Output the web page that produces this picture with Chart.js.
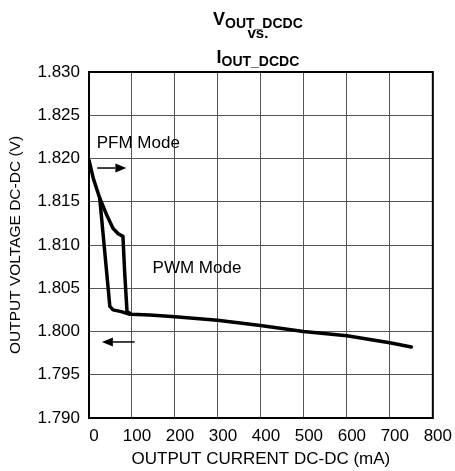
<!DOCTYPE html>
<html>
<head>
<meta charset="utf-8">
<script src="https://cdn.jsdelivr.net/npm/chart.js@4"></script>
<style>
  html,body{margin:0;padding:0;background:#fff;}
  #wrap{width:455px;height:471px;position:relative;}
</style>
</head>
<body>
<div id="wrap"><canvas id="c" width="455" height="471"></canvas></div>
<script>
// rising-load path (PFM -> PWM), in mA / V
var riseCurrent = [0, 10, 25, 41, 56, 68, 79, 83, 88.5, 98.6, 141, 176, 200, 299, 399, 499, 600, 700, 750];
var riseVoltage = [1.8198, 1.8177, 1.8154, 1.8135, 1.8119, 1.8113, 1.8110, 1.8068, 1.8023, 1.8020, 1.8019, 1.8018, 1.8017, 1.8013, 1.8007, 1.8000, 1.7995, 1.7987, 1.7982];
// falling-load path (PWM -> PFM)
var fallCurrent = [25, 48.5, 56, 75, 95];
var fallVoltage = [1.8154, 1.8029, 1.8025, 1.8023, 1.8020];

var xTicks = [0, 100, 200, 300, 400, 500, 600, 700, 800];
var xTickLabels = ['0', '100', '200', '300', '400', '500', '600', '700', '800'];
var yTicks = [1.790, 1.795, 1.800, 1.805, 1.810, 1.815, 1.820, 1.825, 1.830];
var yTickLabels = ['1.790', '1.795', '1.800', '1.805', '1.810', '1.815', '1.820', '1.825', '1.830'];

// annotations in data units
var pfmText = {x: 18, y: 1.8218, text: 'PFM Mode'};
var pwmText = {x: 148, y: 1.8073, text: 'PWM Mode'};
var arrowRight = {x1: 19, x2: 87, y: 1.8189};
var arrowLeft = {x1: 106, x2: 30, y: 1.79879};

var FONT = '"Liberation Sans", Arial, sans-serif';

function pts(xs, ys){ return xs.map(function(x, i){ return {x: x, y: ys[i]}; }); }

function arrow(ctx, x1, x2, y){
  var dir = x2 > x1 ? 1 : -1;
  var head = 11;
  ctx.beginPath();
  ctx.moveTo(x1, y);
  ctx.lineTo(x2 - dir*head, y);
  ctx.lineWidth = 1.5;
  ctx.strokeStyle = '#000';
  ctx.stroke();
  ctx.beginPath();
  ctx.moveTo(x2, y);
  ctx.lineTo(x2 - dir*head, y - 4.5);
  ctx.lineTo(x2 - dir*head, y + 4.5);
  ctx.closePath();
  ctx.fillStyle = '#000';
  ctx.fill();
}

var extras = {
  id: 'extras',
  afterDatasetsDraw: function(chart){
    var ctx = chart.ctx, a = chart.chartArea;
    var xs = chart.scales.x, ys = chart.scales.y;
    ctx.save();
    // frame
    ctx.strokeStyle = '#000';
    ctx.lineWidth = 2;
    ctx.strokeRect(a.left, a.top, a.right - a.left, a.bottom - a.top);
    // labels
    ctx.fillStyle = '#000';
    ctx.font = '17px ' + FONT;
    ctx.textAlign = 'left';
    ctx.textBaseline = 'middle';
    ctx.fillText(pfmText.text, xs.getPixelForValue(pfmText.x), ys.getPixelForValue(pfmText.y));
    ctx.fillText(pwmText.text, xs.getPixelForValue(pwmText.x), ys.getPixelForValue(pwmText.y));
    arrow(ctx, xs.getPixelForValue(arrowRight.x1), xs.getPixelForValue(arrowRight.x2), ys.getPixelForValue(arrowRight.y));
    arrow(ctx, xs.getPixelForValue(arrowLeft.x1), xs.getPixelForValue(arrowLeft.x2), ys.getPixelForValue(arrowLeft.y));
    // title
    var cx = (a.left + a.right) / 2 - 3;
    function subLine(big, small, base){
      ctx.font = 'bold 18px ' + FONT;
      var w1 = ctx.measureText(big).width;
      ctx.font = 'bold 14px ' + FONT;
      var w2 = ctx.measureText(small).width;
      var x0 = cx - (w1 + w2) / 2;
      ctx.textAlign = 'left';
      ctx.textBaseline = 'alphabetic';
      ctx.font = 'bold 18px ' + FONT;
      ctx.fillText(big, x0, base);
      ctx.font = 'bold 14px ' + FONT;
      ctx.fillText(small, x0 + w1, base + 3);
    }
    subLine('V', 'OUT_DCDC', 25);
    ctx.font = 'bold 15px ' + FONT;
    ctx.textAlign = 'center';
    ctx.textBaseline = 'alphabetic';
    ctx.fillText('vs.', cx, 38);
    subLine('I', 'OUT_DCDC', 63);
    ctx.restore();
  }
};

new Chart(document.getElementById('c').getContext('2d'), {
  type: 'scatter',
  data: {
    datasets: [
      {data: pts(riseCurrent, riseVoltage), showLine: true, borderColor: '#000', borderWidth: 3.5, pointRadius: 0, tension: 0, borderJoinStyle: 'round', borderCapStyle: 'round'},
      {data: pts(fallCurrent, fallVoltage), showLine: true, borderColor: '#000', borderWidth: 3.5, pointRadius: 0, tension: 0, borderJoinStyle: 'round', borderCapStyle: 'round'}
    ]
  },
  options: {
    responsive: false,
    animation: false,
    events: [],
    layout: {padding: {top: 72, right: 20, left: 0, bottom: 0}},
    plugins: {legend: {display: false}, tooltip: {enabled: false}},
    scales: {
      x: {
        type: 'linear', min: 0, max: 800,
        afterFit: function(s){ s.height = 53; },
        afterBuildTicks: function(s){ s.ticks = xTicks.map(function(v){ return {value: v}; }); },
        ticks: {
          color: '#000', font: {family: FONT, size: 17}, padding: 8, labelOffset: 5, maxRotation: 0,
          callback: function(v){ var i = xTicks.indexOf(v); return i < 0 ? '' : xTickLabels[i]; }
        },
        grid: {color: '#555', lineWidth: 1, drawTicks: false},
        border: {display: false},
        title: {display: true, text: 'OUTPUT CURRENT DC-DC (mA)', color: '#000', font: {family: FONT, size: 17}, padding: {top: 0, bottom: 1}}
      },
      y: {
        type: 'linear', min: 1.790, max: 1.830,
        afterFit: function(s){ s.width = 89; },
        afterBuildTicks: function(s){ s.ticks = yTicks.map(function(v){ return {value: v}; }); },
        ticks: {
          color: '#000', font: {family: FONT, size: 17}, padding: 9,
          callback: function(v){
            for (var i = 0; i < yTicks.length; i++) if (Math.abs(yTicks[i] - v) < 1e-6) return yTickLabels[i];
            return '';
          }
        },
        grid: {color: '#555', lineWidth: 1, drawTicks: false},
        border: {display: false},
        title: {display: true, text: 'OUTPUT VOLTAGE DC-DC (V)', color: '#000', font: {family: FONT, size: 15.5}, padding: {top: 6, bottom: 0}}
      }
    }
  },
  plugins: [extras]
});
</script>
</body>
</html>
